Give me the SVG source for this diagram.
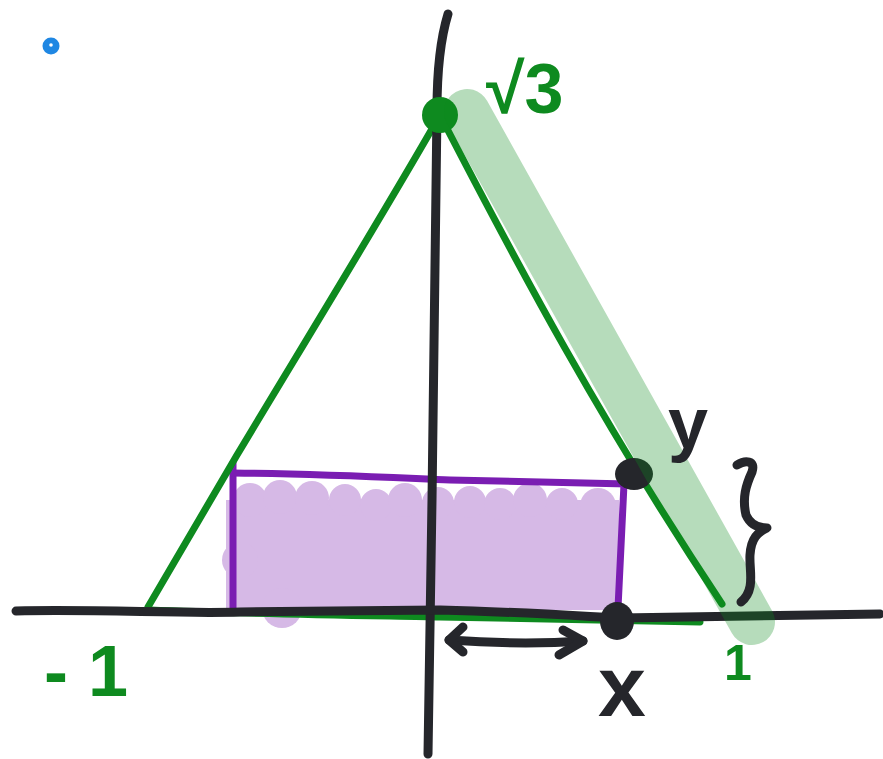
<svg xmlns="http://www.w3.org/2000/svg" width="883" height="759" viewBox="0 0 883 759">
<style>
.ink{fill:none;stroke:#25262b;stroke-width:9;stroke-linecap:round;stroke-linejoin:round}
.grn{fill:none;stroke:#0e8a1f;stroke-width:7;stroke-linecap:round;stroke-linejoin:round}
.pur{fill:none;stroke:#7a1db2;stroke-width:7;stroke-linecap:round;stroke-linejoin:round}
.blob{fill:#d6b9e6}
.lbl{font-family:"Liberation Sans",Arial,sans-serif;font-weight:bold}
.g{fill:#0e8a1f}
.k{fill:#25262b}
</style>
<rect width="883" height="759" fill="#ffffff"/>
<g id="blue-dot">
<circle cx="51" cy="46" r="8.5" fill="#1f87e3"/>
<circle cx="51" cy="45" r="1.8" fill="#ffffff"/>
</g>
<g id="rect-fill" class="blob">
<rect x="226" y="500" width="393" height="110"/>
<circle cx="250" cy="500" r="17"/>
<circle cx="280" cy="497" r="17"/>
<circle cx="312" cy="498" r="17"/>
<circle cx="345" cy="500" r="16"/>
<circle cx="376" cy="505" r="16"/>
<circle cx="405" cy="500" r="17"/>
<circle cx="438" cy="503" r="16"/>
<circle cx="470" cy="502" r="16"/>
<circle cx="500" cy="504" r="16"/>
<circle cx="530" cy="500" r="17"/>
<circle cx="562" cy="504" r="16"/>
<circle cx="598" cy="506" r="18"/>
<circle cx="240" cy="560" r="18"/>
<circle cx="282" cy="608" r="20"/>
</g>
<g id="rect-lines">
<path class="pur" d="M233,463 L233,608"/>
<path class="pur" d="M233,473 C330,474 400,478 450,480 L628,484"/>
<path class="pur" d="M624,484 L618,608"/>
</g>
<g id="triangle">
<path class="grn" d="M440,115 C380,220 300,350 237,455 L148,607"/>
<path class="grn" d="M440,115 C520,270 600,420 722,604"/>
<path class="grn" d="M150,610 C250,614 400,616 440,617 L700,622"/>
</g>
<g id="axes">
<path class="ink" d="M448,14 Q437,50 437,110 L432,500 L428,754"/>
<path class="ink" d="M16,611 C100,609 180,614 240,612 L440,610 C520,612 580,616 620,618 L880,614"/>
</g>
<g id="top-point">
<circle cx="440" cy="115" r="18" fill="#0e8a1f"/>
</g>
<g id="points">
<ellipse cx="634" cy="474" rx="19" ry="16" fill="#25262b"/>
<ellipse cx="617" cy="621" rx="17" ry="19" fill="#25262b"/>
</g>
<g id="highlight">
<path d="M467,112 L752,622" fill="none" stroke="#0e8a1f" stroke-opacity="0.3" stroke-width="46" stroke-linecap="round"/>
</g>
<g id="connectors">
<path class="ink" d="M449,640 C490,643 540,644 583,641"/>
<path class="ink" d="M463,627 L449,640 L463,652"/>
<path class="ink" d="M563,630 L583,641 L559,655"/>
<path class="ink" d="M737,465 C745,460 756,460 752,472 C746,485 742,498 746,515 C750,524 758,528 767,528 C758,532 751,538 750,555 C749,570 756,590 741,602"/>
</g>
<g id="labels" class="lbl">
<text x="486" y="113" font-size="70" class="g">√3</text>
<text x="668" y="448" font-size="72" class="k">y</text>
<text x="598" y="716" font-size="86" class="k">x</text>
<text x="44" y="696" font-size="72" class="g">- 1</text>
<text x="724" y="680" font-size="50" class="g">1</text>
</g>
</svg>
